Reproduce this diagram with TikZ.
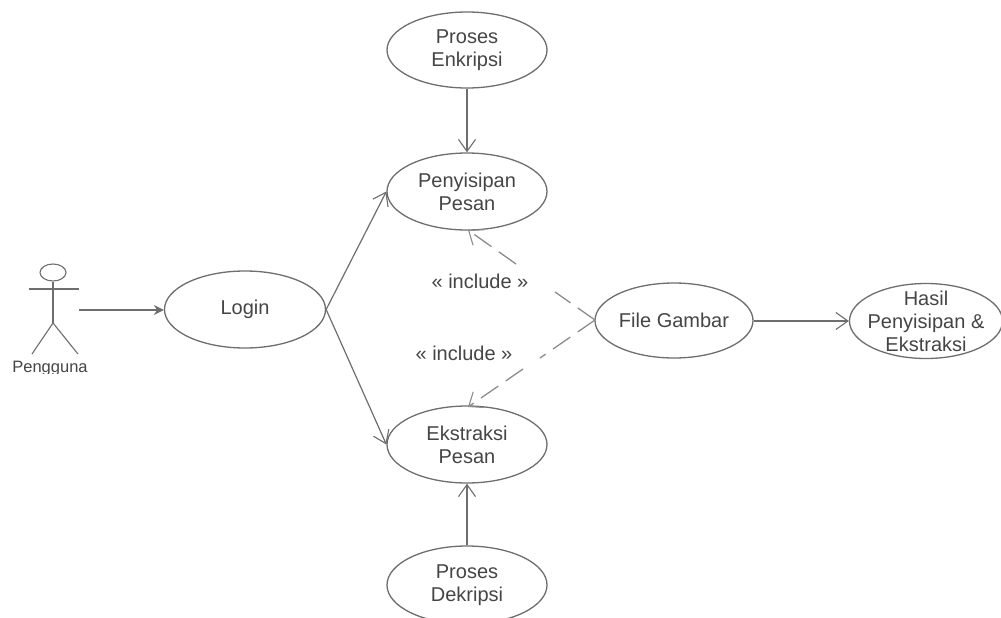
\documentclass[tikz,border=0pt]{standalone}
\usepackage{fontspec}
\setmainfont{Liberation Sans}
\usetikzlibrary{arrows.meta,calc,shapes.geometric}
\definecolor{ln}{HTML}{6E6E6E}
\definecolor{dl}{HTML}{8C8C8C}
\definecolor{tx}{HTML}{454545}
\tikzset{
  x=1pt,y=-1pt,
  usecase/.style={draw=ln,line width=1.3pt,ellipse,minimum width=160pt,minimum height=76pt,inner sep=-15pt,align=center,text=tx,font=\fontsize{20}{23}\selectfont,fill=white},
  assoc/.style={draw=ln,line width=1.2pt,-{Straight Barb[length=12pt,width=17pt,line width=1.1pt]}},
  dep/.style={draw=dl,line width=1.3pt,dash pattern=on 21pt off 9pt},
  depend/.style={dep,-{Straight Barb[length=12pt,width=19pt,line width=1.1pt]}},
  lbl/.style={text=tx,font=\fontsize{20}{23}\selectfont,inner sep=0pt},
  actor/.style={draw=ln,line width=1.1pt}
}
\begin{document}
\begin{tikzpicture}
\useasboundingbox (0,0) rectangle (1001,618);
\clip (0,0) rectangle (1001,618);
\fill[white] (0,0) rectangle (1001,618);
% use cases
\node[usecase] (enk) at (467,50) {Proses\\Enkripsi};
\node[usecase,minimum height=77pt] (pen) at (467,191.5) {Penyisipan\\Pesan};
\node[usecase,minimum width=161pt,minimum height=77pt] (login) at (245,309.5) {Login};
\node[usecase,minimum height=77pt] (eks) at (467,444.5) {Ekstraksi\\Pesan};
\node[usecase,minimum height=78pt] (dek) at (467,585) {Proses\\Dekripsi};
\node[usecase,minimum width=158pt,minimum height=75pt] (file) at (674,320.5) {File Gambar};
\node[usecase,minimum width=153pt,minimum height=75pt] (hasil) at (926,321) {Hasil\\Penyisipan \&\\Ekstraksi};
% actor
\node[draw=ln,line width=1.1pt,ellipse,minimum width=26pt,minimum height=17pt,inner sep=0pt] (head) at (53,272.5) {};
\coordinate (armL) at (29,289);
\coordinate (armR) at (79,289);
\coordinate (hip) at (53,323);
\coordinate (legL) at (32,354);
\coordinate (legR) at (78,354);
\draw[actor] (head.south) -- (hip);
\draw[actor] (armL) -- (armR);
\draw[actor] (legL) -- (hip) -- (legR);
\begin{scope}
\clip (0,355) rectangle (100,373);
\node[lbl,font=\fontsize{16.5}{19}\selectfont] (pengguna) at (50,369) {Pengguna};
\end{scope}
% connectors
\coordinate (actorOut) at (79,310);
\draw[draw=ln,line width=1.2pt,-{Stealth[length=10pt,width=10pt]}] (actorOut) -- (login.west |- actorOut);
\coordinate (loginE) at (login.east);
\draw[assoc] (loginE) -- (pen.west);
\draw[assoc] (loginE) -- (eks.west);
\draw[assoc] (enk) -- (pen);
\draw[assoc] (dek) -- (eks);
\draw[assoc] (file.east |- hasil.west) -- (hasil.west);
% dependencies
\coordinate (fileW) at (595,320);
\coordinate (penS) at (468,230);
\coordinate (eksN) at (468,407);
\coordinate (g1a) at (555,292);
\coordinate (g1b) at (516,264);
\coordinate (g2a) at (540,358);
\coordinate (g2b) at (523,369);
\draw[dep] (fileW) -- (g1a);
\draw[depend] (g1b) -- (penS);
\draw[dep] (fileW) -- (g2a);
\draw[depend] (g2b) -- (eksN);
% labels
\node[lbl] (inc1) at (480,281) {« include »};
\node[lbl] (inc2) at (464,353) {« include »};
\end{tikzpicture}
\end{document}
